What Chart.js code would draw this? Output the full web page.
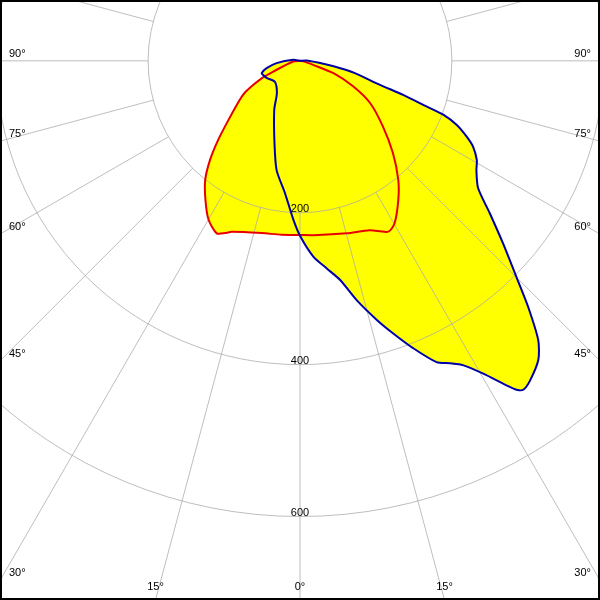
<!DOCTYPE html>
<html>
<head>
<meta charset="utf-8">
<script src="https://cdn.jsdelivr.net/npm/chart.js@4/dist/chart.umd.min.js"></script>
<style>
  html, body { margin: 0; padding: 0; background: #fff; }
  #c { display: block; }
</style>
</head>
<body>
<canvas id="c" width="600" height="600"></canvas>
<script>
// polar photometric diagram, angle from nadir (negative = left half), values in cd/klm
const GRID_VALUES = [200, 400, 600];
const GRID_LABELS = ['200', '400', '600'];
const ANGLE_TICKS = [0, 15, 30, 45, 60, 75, 90];

// C0-C180 plane (red)
const RED_ANGLE = [-90, -84, -68.2, -65.7, -62.8, -60, -57, -50.5, -46, -42.3, -38.6, -34.3, -30, -25.8, -23.5, -21.8, -12.5, -6, 0,
  4.4, 15.2, 22.4, 27.4, 30.3, 35.3, 39.6, 45.3, 51.7, 58.9, 64.3, 69.7, 73, 80, 90];
const RED_CD = [0, 9, 38, 55, 69, 84, 95, 122, 150, 176, 200, 221, 241, 252, 247, 242, 232, 230, 229,
  230, 235, 241, 253, 247, 224, 203, 172, 139, 108, 78, 47, 18, 6, 0];

// C90-C270 plane (blue)
const BLUE_ANGLE = [-100, -98.5, -84.4, -77.6, -72.2, -69.1, -62.5, -50.4, -35.8, -27.7, -17.3, -12.1, -6.5, -2.4, 0,
  3.9, 7.3, 10.4, 13.3, 16.5, 18.9, 21.5, 24.4, 26.4, 28.2, 30.4, 32.5, 33.4, 34.2, 35.8, 38.6, 40.5, 42.9, 45.1,
  48.1, 51.3, 54.5, 58.3, 60.7, 63.7, 65.6, 67.8, 69.4, 70.2, 71.8, 73.3, 77.4, 79.7, 82.7, 92.6, 100];
const BLUE_CD = [0, 9, 31, 45, 53, 52, 49, 43, 52, 73, 113, 147, 175, 209, 230,
  258, 275, 293, 323, 355, 379, 406, 435, 444, 454, 477, 506, 518, 523, 518, 503, 483, 441, 402,
  359, 320, 288, 273, 267, 254, 241, 223, 202, 177, 143, 110, 74, 54, 31, 9, 0];

const toXY = (angles, vals) => angles.map((a, i) => {
  const t = a * Math.PI / 180;
  return { x: vals[i] * Math.sin(t), y: -vals[i] * Math.cos(t) };
});

const polarGrid = {
  id: 'polarGrid',
  beforeDatasetsDraw(chart) {
    const { ctx, scales: { x, y } } = chart;
    const cx = x.getPixelForValue(0), cy = y.getPixelForValue(0);
    const rad = (v) => x.getPixelForValue(v) - cx;
    ctx.save();
    ctx.strokeStyle = 'rgba(168,168,168,0.75)';
    ctx.lineWidth = 1;
    GRID_VALUES.forEach((v) => { ctx.beginPath(); ctx.arc(cx, cy, rad(v), 0, Math.PI * 2); ctx.stroke(); });
    const r0 = rad(GRID_VALUES[0]), r1 = rad(3000);
    ctx.beginPath();
    for (let a = 0; a < 360; a += 15) {
      const t = a * Math.PI / 180, dx = Math.sin(t), dy = Math.cos(t);
      ctx.moveTo(cx + dx * r0, cy + dy * r0);
      ctx.lineTo(cx + dx * r1, cy + dy * r1);
    }
    ctx.stroke();
    ctx.restore();
  },
  afterDraw(chart) {
    const { ctx, scales: { x, y } } = chart;
    const W = chart.width, H = chart.height;
    const cx = x.getPixelForValue(0), cy = y.getPixelForValue(0);
    ctx.save();
    ctx.fillStyle = '#000';
    ctx.font = '11px "Liberation Sans", Arial, sans-serif';
    // radial value labels sit on top of each circle along nadir
    ctx.textAlign = 'center'; ctx.textBaseline = 'alphabetic';
    GRID_VALUES.forEach((v, i) => ctx.fillText(GRID_LABELS[i], cx, y.getPixelForValue(-v) - 1));
    // angle labels where the rays leave the canvas
    ctx.textBaseline = 'middle';
    ANGLE_TICKS.forEach((a) => {
      [-1, 1].forEach((side) => {
        if (a === 0 && side > 0) return;
        const t = a * Math.PI / 180, s = Math.sin(t), c = Math.cos(t);
        const tSide = s > 1e-6 ? (side < 0 ? cx : W - cx) / s : Infinity;
        const tBot = c > 1e-6 ? (H - cy) / c : Infinity;
        if (tSide < tBot) {
          const py = cy + c * tSide;
          ctx.textAlign = side < 0 ? 'left' : 'right';
          ctx.fillText(a + '°', side < 0 ? 9 : W - 9, py - 7);
        } else {
          const px = cx + side * s * tBot;
          ctx.textAlign = 'center';
          ctx.fillText(a + '°', px, H - 13);
        }
      });
    });
    ctx.strokeStyle = '#000'; ctx.lineWidth = 2;
    ctx.strokeRect(1, 1, W - 2, H - 2);
    ctx.restore();
  }
};

new Chart(document.getElementById('c'), {
  type: 'scatter',
  data: {
    datasets: [
      { data: toXY(BLUE_ANGLE, BLUE_CD), showLine: true, borderColor: '#0000a8', borderWidth: 2,
        backgroundColor: '#ffff00', fill: 'shape', pointRadius: 0, tension: 0.25 },
      { data: toXY(RED_ANGLE, RED_CD), showLine: true, borderColor: '#e80000', borderWidth: 2,
        backgroundColor: '#ffff00', fill: 'shape', pointRadius: 0, tension: 0.25 },
    ]
  },
  options: {
    responsive: false, animation: false, events: [],
    layout: { padding: 0, autoPadding: false },
    scales: {
      x: { type: 'linear', display: false, min: -395, max: 395 },
      y: { type: 'linear', display: false, min: -709, max: 80 },
    },
    plugins: { legend: { display: false }, tooltip: { enabled: false }, filler: { drawTime: 'beforeDatasetsDraw' } },
  },
  plugins: [polarGrid],
});
</script>
</body>
</html>
